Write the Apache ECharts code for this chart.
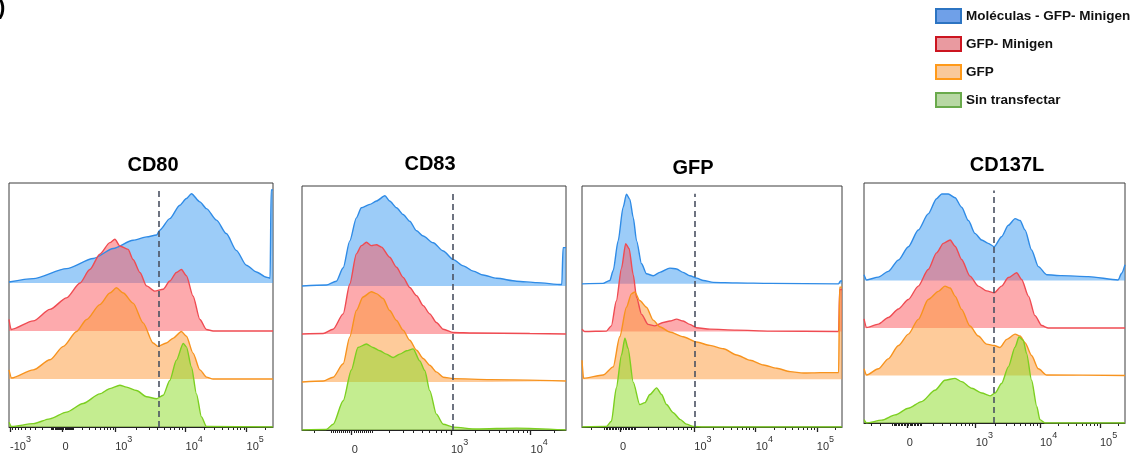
<!DOCTYPE html>
<html><head><meta charset="utf-8">
<script src="https://cdn.jsdelivr.net/npm/echarts@6/dist/echarts.min.js"></script>
<style>html,body{margin:0;padding:0;background:#fff}#c{width:1145px;height:458px}</style>
</head><body><div id="c"></div>
<script>
// ---------- DATA ----------
const panelTitles = ['CD80', 'CD83', 'GFP', 'CD137L'];
const seriesNames = ['Moléculas - GFP- Minigen', 'GFP- Minigen', 'GFP', 'Sin transfectar'];

// x: position along the (biexponential) fluorescence axis, in % of axis width
// h: histogram height (normalised to mode, one row = 1)
const cd80_blue_x = [0, 9.2, 21.8, 31.9, 39.5, 47.0, 52.1, 55.9, 57.1, 60.9, 64.7, 67.2, 69.1, 72.3, 74.8, 78.6, 82.3, 86.1, 89.9, 93.7, 97.5, 98.9, 99.3, 100];
const cd80_blue_h = [0.02, 0.09, 0.30, 0.51, 0.72, 0.89, 0.96, 1.00, 1.10, 1.34, 1.62, 1.76, 1.86, 1.69, 1.55, 1.31, 1.03, 0.68, 0.37, 0.23, 0.12, 0.10, 1.94, 1.94];
const cd80_red_x = [0, 0.8, 9.2, 15.5, 21.8, 26.9, 30.6, 34.4, 38.2, 40.1, 42.0, 45.1, 47.0, 49.6, 52.1, 55.2, 58.4, 60.9, 63.4, 65.3, 67.2, 69.7, 72.3, 74.8, 77.3, 100];
const cd80_red_h = [0.24, 0.03, 0.21, 0.45, 0.69, 1.00, 1.28, 1.60, 1.84, 1.91, 1.77, 1.70, 1.49, 1.22, 0.94, 0.83, 0.87, 1.04, 1.22, 1.28, 1.15, 0.73, 0.24, 0.03, 0.0, 0.0];
const cd80_orange_x = [0, 1.0, 9.2, 15.5, 20.6, 25.6, 29.4, 34.4, 38.2, 40.7, 43.3, 47.0, 50.8, 54.6, 56.5, 59.6, 62.2, 65.3, 67.2, 69.7, 72.3, 74.8, 77.3, 100];
const cd80_orange_h = [0.19, 0.02, 0.19, 0.40, 0.68, 0.99, 1.24, 1.55, 1.79, 1.90, 1.79, 1.58, 1.17, 0.75, 0.68, 0.75, 0.85, 0.99, 0.89, 0.54, 0.19, 0.04, 0.0, 0.0];
const cd80_green_x = [0, 1.0, 9.2, 15.5, 21.8, 28.1, 34.4, 38.2, 42.0, 44.5, 48.3, 52.1, 55.9, 58.4, 60.9, 63.4, 66.0, 67.2, 69.1, 71.0, 72.9, 74.8, 100];
const cd80_green_h = [0.10, 0.01, 0.07, 0.17, 0.31, 0.49, 0.69, 0.80, 0.87, 0.83, 0.76, 0.63, 0.59, 0.66, 0.97, 1.39, 1.74, 1.67, 1.25, 0.69, 0.21, 0.01, 0.0];

const cd83_blue_x = [0, 9.2, 13.0, 15.6, 18.1, 20.6, 22.5, 25.7, 28.2, 31.4, 33.2, 35.8, 38.3, 40.8, 43.4, 45.9, 49.7, 53.5, 57.3, 61.1, 64.9, 68.6, 73.7, 81.3, 88.9, 98.4, 98.9, 100];
const cd83_blue_h = [0, 0.02, 0.10, 0.38, 0.94, 1.42, 1.63, 1.70, 1.77, 1.88, 1.77, 1.63, 1.49, 1.35, 1.15, 1.04, 0.90, 0.73, 0.55, 0.42, 0.31, 0.23, 0.16, 0.10, 0.07, 0.03, 0.80, 0.80];
const cd83_red_x = [0, 8.0, 11.8, 15.6, 18.1, 20.6, 22.5, 24.4, 26.3, 28.2, 30.1, 33.2, 35.8, 38.3, 40.8, 43.4, 45.9, 48.4, 50.9, 53.5, 57.3, 64.9, 86.3, 100];
const cd83_red_h = [0, 0.01, 0.10, 0.42, 1.04, 1.67, 1.84, 1.91, 1.84, 1.86, 1.81, 1.60, 1.39, 1.18, 0.97, 0.80, 0.59, 0.42, 0.24, 0.10, 0.03, 0.02, 0.01, 0];
const cd83_orange_x = [0, 8.0, 11.8, 15.6, 18.1, 20.6, 23.1, 26.3, 28.2, 30.7, 33.2, 35.8, 38.3, 40.8, 43.4, 45.9, 48.4, 50.9, 53.5, 57.3, 71.2, 100];
const cd83_orange_h = [0, 0.02, 0.10, 0.38, 0.94, 1.49, 1.77, 1.88, 1.84, 1.74, 1.49, 1.28, 1.08, 0.87, 0.66, 0.49, 0.35, 0.21, 0.10, 0.07, 0.05, 0.02];
const cd83_green_x = [0, 9.2, 11.8, 15.6, 18.7, 21.2, 24.4, 26.9, 29.5, 32.0, 34.5, 37.0, 39.6, 42.1, 44.6, 46.5, 48.4, 50.9, 53.5, 57.3, 66.1, 81.3, 100];
const cd83_green_h = [0, 0.01, 0.12, 0.61, 1.25, 1.72, 1.79, 1.72, 1.65, 1.58, 1.51, 1.58, 1.65, 1.69, 1.44, 1.24, 0.82, 0.33, 0.12, 0.06, 0.02, 0.04, 0];

const gfp_blue_x = [0, 8.1, 10.7, 12.0, 13.9, 15.8, 17.1, 18.4, 19.7, 21.0, 22.9, 24.8, 27.4, 29.9, 33.8, 36.4, 38.9, 41.5, 44.1, 46.7, 50.5, 59.5, 72.4, 98.7, 99.4, 100];
const gfp_blue_h = [0, 0.01, 0.07, 0.28, 0.90, 1.60, 1.88, 1.77, 1.39, 0.90, 0.42, 0.21, 0.17, 0.24, 0.33, 0.31, 0.24, 0.17, 0.12, 0.07, 0.03, 0.02, 0.01, 0, 0.06, 0.06];
const gfp_red_x = [0, 1.0, 9.4, 11.3, 13.2, 15.2, 16.8, 18.1, 19.7, 21.0, 22.9, 25.4, 28.0, 31.2, 33.8, 36.4, 38.9, 41.5, 44.1, 49.2, 59.5, 72.4, 98.7, 99.1, 100];
const gfp_red_h = [0.05, 0, 0.01, 0.12, 0.64, 1.33, 1.84, 1.74, 1.19, 0.71, 0.36, 0.15, 0.12, 0.19, 0.22, 0.26, 0.22, 0.15, 0.08, 0.05, 0.03, 0.01, 0, 0.88, 0.88];
const gfp_orange_x = [0, 0.6, 8.1, 12.0, 14.5, 17.1, 19.0, 20.3, 22.2, 24.8, 27.4, 29.9, 33.8, 38.9, 44.1, 49.2, 54.4, 59.5, 64.7, 69.8, 74.9, 80.1, 85.2, 91.6, 96.8, 98.7, 99.1, 100];
const gfp_orange_h = [0.40, 0.02, 0.09, 0.26, 0.89, 1.51, 1.79, 1.83, 1.65, 1.51, 1.24, 1.10, 0.99, 0.89, 0.78, 0.71, 0.64, 0.51, 0.40, 0.30, 0.23, 0.16, 0.13, 0.14, 0.14, 0.14, 1.93, 1.93];
const gfp_green_x = [0, 9.4, 11.3, 13.2, 15.2, 16.5, 17.7, 19.7, 22.2, 24.2, 26.1, 28.7, 30.6, 32.5, 35.1, 37.7, 40.2, 42.8, 46.7, 100];
const gfp_green_h = [0, 0.01, 0.12, 0.82, 1.51, 1.86, 1.65, 0.94, 0.47, 0.51, 0.68, 0.82, 0.68, 0.47, 0.30, 0.16, 0.06, 0.01, 0, 0];

const cd137l_blue_x = [0, 1.0, 5.5, 9.3, 13.2, 17.0, 20.8, 24.6, 27.8, 29.8, 32.3, 34.9, 37.4, 40.0, 42.5, 45.1, 47.6, 49.9, 52.7, 55.3, 57.9, 59.8, 61.7, 64.2, 66.8, 70.0, 75.7, 86.0, 97.4, 98.7, 100];
const cd137l_blue_h = [0.12, 0.01, 0.07, 0.19, 0.43, 0.71, 1.06, 1.40, 1.72, 1.82, 1.82, 1.74, 1.54, 1.26, 0.99, 0.85, 0.78, 0.71, 0.92, 1.16, 1.30, 1.26, 1.06, 0.64, 0.29, 0.12, 0.10, 0.08, 0.01, 0.15, 0.33];
const cd137l_red_x = [0, 1.0, 5.5, 9.3, 13.2, 17.0, 20.8, 24.6, 27.8, 30.4, 33.0, 34.9, 37.4, 40.6, 43.8, 47.0, 49.9, 52.7, 55.3, 58.5, 60.4, 63.0, 65.5, 68.1, 70.6, 100];
const cd137l_red_h = [0.19, 0.01, 0.08, 0.22, 0.40, 0.60, 0.88, 1.23, 1.58, 1.78, 1.85, 1.72, 1.44, 1.09, 0.88, 0.78, 0.74, 0.88, 1.06, 1.16, 1.02, 0.67, 0.26, 0.05, 0, 0];
const cd137l_orange_x = [0, 1.0, 5.5, 9.3, 13.2, 17.0, 20.8, 24.6, 28.5, 31.0, 33.0, 34.9, 37.4, 40.6, 43.8, 47.0, 49.9, 52.1, 54.7, 57.9, 59.8, 61.7, 64.2, 66.8, 70.0, 100];
const cd137l_orange_h = [0.14, 0.01, 0.14, 0.35, 0.63, 0.87, 1.18, 1.60, 1.77, 1.88, 1.84, 1.67, 1.39, 1.04, 0.83, 0.66, 0.63, 0.59, 0.76, 0.87, 0.83, 0.69, 0.42, 0.14, 0.01, 0];
const cd137l_green_x = [0, 1.0, 6.8, 11.9, 17.0, 22.1, 27.2, 31.0, 34.9, 37.4, 41.3, 45.1, 48.3, 50.2, 52.7, 55.3, 57.9, 59.4, 61.0, 62.3, 64.2, 66.2, 67.4, 69.3, 100];
const cd137l_green_h = [0.07, 0, 0.06, 0.17, 0.31, 0.45, 0.69, 0.90, 0.94, 0.87, 0.73, 0.63, 0.57, 0.63, 0.83, 1.18, 1.60, 1.81, 1.74, 1.46, 0.90, 0.35, 0.07, 0, 0];

// axis ticks (position in % of axis width) and labels
const tickPos = [[0.4, 20.3, 40.2, 66.9, 90.0], [18.8, 56.4, 86.6], [14.6, 43.2, 66.8, 90.3], [16.4, 42.8, 67.4, 90.4]];
const tickLabels = [['-10^3', '0', '10^3', '10^4', '10^5'], ['0', '10^3', '10^4'], ['0', '10^3', '10^4', '10^5'], ['0', '10^3', '10^4', '10^5']];
// gate (dashed line) positions
const gatePos = [56.9, 57.1, 43.2, 49.8];

// ---------- STYLE / LAYOUT ----------
const lineColors = ['#2f8be6', '#ef4b52', '#f7931e', '#7ccf20'];
const fillColors = ['rgba(57,153,241,0.5)', 'rgba(251,85,91,0.5)', 'rgba(253,151,53,0.5)', 'rgba(137,219,33,0.5)'];
const legendFill = ['#6fa0e8', '#e99aa0', '#f9c99b', '#b8d8a4'];
const legendBorder = ['#2c74c2', '#cc1520', '#ff9a1a', '#6aaa4c'];
const grids = [
  {left: 9, top: 183, width: 264, height: 244, ymax: 5.083},
  {left: 302, top: 186, width: 264, height: 244, ymax: 5.083},
  {left: 582, top: 186, width: 260, height: 241, ymax: 5.05},
  {left: 864, top: 183, width: 261, height: 240, ymax: 5.05}
];
const titlePos = [[153, 165], [430, 164], [693, 168], [1007, 165]];

const panelData = [
  [[cd80_blue_x, cd80_blue_h], [cd80_red_x, cd80_red_h], [cd80_orange_x, cd80_orange_h], [cd80_green_x, cd80_green_h]],
  [[cd83_blue_x, cd83_blue_h], [cd83_red_x, cd83_red_h], [cd83_orange_x, cd83_orange_h], [cd83_green_x, cd83_green_h]],
  [[gfp_blue_x, gfp_blue_h], [gfp_red_x, gfp_red_h], [gfp_orange_x, gfp_orange_h], [gfp_green_x, gfp_green_h]],
  [[cd137l_blue_x, cd137l_blue_h], [cd137l_red_x, cd137l_red_h], [cd137l_orange_x, cd137l_orange_h], [cd137l_green_x, cd137l_green_h]]
];

// minor ticks from the major decade positions (biexponential-like spacing)
function minorTicks(p) {
  const pos = tickPos[p], lab = tickLabels[p];
  const at = l => { const i = lab.indexOf(l); return i >= 0 ? pos[i] : null; };
  const p0 = at('0'), p3 = at('10^3'), p4 = at('10^4');
  let p5 = at('10^5'); if (p5 === null) p5 = p4 + (p4 - p3);
  const out = [];
  const lin = v => p0 + Math.sign(v) * (p3 - p0) * Math.asinh(Math.abs(v) / 200) / Math.asinh(5);
  for (let m = 1; m <= 9; m++) {
    [m * 10, m * 100].forEach(v => { out.push(lin(v)); out.push(lin(-v)); });
  }
  for (let m = 2; m <= 9; m++) {
    out.push(p3 + (p4 - p3) * Math.log10(m));
    out.push(p4 + (p5 - p4) * Math.log10(m));
    out.push(p5 + (p5 - p4) * Math.log10(m));
  }
  return out.filter(v => v > 0.2 && v < 99.8);
}

function fmtLabel(l) {
  if (l.indexOf('^') < 0) return '{b|' + l + '}';
  const [base, exp] = l.split('^');
  return '{b|' + base + '}{s|' + exp + '}';
}

const xAxis = [], yAxis = [], grid = [], series = [], graphic = [];
grids.forEach((g, p) => {
  grid.push({left: g.left, top: g.top, width: g.width, height: g.height, show: true,
    borderColor: '#3c3c3c', borderWidth: 1, backgroundColor: 'transparent', containLabel: false});
  const labelMap = {};
  tickPos[p].forEach((v, i) => labelMap[v] = tickLabels[p][i]);
  xAxis.push({type: 'value', gridIndex: p, min: 0, max: 100, position: 'bottom',
    axisLine: {show: true, lineStyle: {color: '#222', width: 1}},
    axisTick: {show: true, customValues: tickPos[p], length: 5, lineStyle: {color: '#222', width: 1.3}},
    splitLine: {show: false},
    axisLabel: {show: true, customValues: tickPos[p], margin: 8, align: 'left',
      formatter: v => fmtLabel(labelMap[v] || ''),
      rich: {
        b: {fontSize: 11, color: '#333', fontFamily: 'Liberation Sans', lineHeight: 17, verticalAlign: 'bottom'},
        s: {fontSize: 9, color: '#333', fontFamily: 'Liberation Sans', lineHeight: 8, verticalAlign: 'top'}
      }}
  });
  xAxis.push({type: 'value', gridIndex: p, min: 0, max: 100, position: 'bottom',
    axisLine: {show: false}, splitLine: {show: false}, axisLabel: {show: false},
    axisTick: {show: true, customValues: minorTicks(p), length: 3, lineStyle: {color: '#222', width: 1}}
  });
  yAxis.push({type: 'value', gridIndex: p, min: 0, max: g.ymax, show: false});

  panelData[p].forEach((d, r) => {
    const offset = 3 - r;
    const s = {
      type: 'line', name: seriesNames[r], xAxisIndex: p * 2, yAxisIndex: p,
      data: d[0].map((x, i) => [x, offset + d[1][i]]),
      symbol: 'none', showSymbol: false, smooth: 0.25, smoothMonotone: 'x',
      lineStyle: {color: lineColors[r], width: 1.4},
      itemStyle: {color: lineColors[r]},
      areaStyle: {color: fillColors[r], origin: offset, opacity: 1},
      silent: true, animation: false
    };
    if (r === 3) {
      s.markLine = {symbol: ['none', 'none'], silent: true, animation: false,
        label: {show: false},
        lineStyle: {color: '#4a5262', type: [6, 4], width: 1.6},
        emphasis: {disabled: true},
        data: [[{coord: [gatePos[p], 0]}, {coord: [gatePos[p], g.ymax - 0.16]}]]};
    }
    series.push(s);
  });

  graphic.push({type: 'text', x: titlePos[p][0], y: titlePos[p][1],
    style: {text: panelTitles[p], align: 'center', verticalAlign: 'middle',
      fontSize: 20, fontWeight: 'bold', fontFamily: 'Liberation Sans', fill: '#000'}});
});
graphic.push({type: 'text', x: -2, y: -3,
  style: {text: ')', fontSize: 22, fontWeight: 'bold', fontFamily: 'Liberation Sans', fill: '#000'}});

const chart = echarts.init(document.getElementById('c'), null, {renderer: 'canvas'});
chart.setOption({
  animation: false,
  backgroundColor: '#fff',
  grid, xAxis, yAxis, series, graphic,
  legend: {
    orient: 'vertical', left: 930, top: 3, itemWidth: 25, itemHeight: 14, itemGap: 12,
    icon: 'rect', selectedMode: false,
    textStyle: {fontSize: 13.5, fontWeight: 'bold', color: '#111', fontFamily: 'Liberation Sans'},
    data: seriesNames.map((n, i) => ({name: n, icon: 'rect',
      itemStyle: {color: legendFill[i], borderColor: legendBorder[i], borderWidth: 2}}))
  }
});
</script>
</body></html>
